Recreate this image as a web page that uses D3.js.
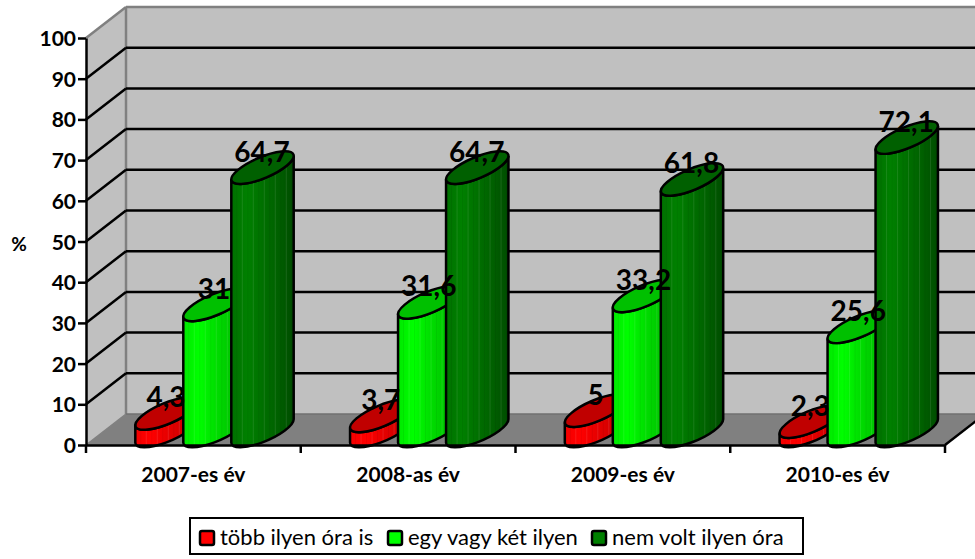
<!DOCTYPE html>
<html>
<head>
<meta charset="utf-8">
<script src="https://cdnjs.cloudflare.com/ajax/libs/d3/7.8.5/d3.min.js"></script>
<style>
html,body{margin:0;padding:0;background:#fff}
svg{display:block}
text{font-family:Lato,"Open Sans",sans-serif;fill:#000}
</style>
</head>
<body>
<svg id="c" width="975" height="559"></svg>
<script>
const categories = ["2007-es év","2008-as év","2009-es év","2010-es év"];
const seriesNames = ["több ilyen óra is","egy vagy két ilyen","nem volt ilyen óra"];
const tobbIlyen = [4.3,3.7,5,2.3];
const egyVagyKet = [31,31.6,33.2,25.6];
const nemVolt = [64.7,64.7,61.8,72.1];
const yTicks = [0,10,20,30,40,50,60,70,80,90,100];
const bodyColors = [
  ["#f40000","#ff0000","#e80000","#d40000","#b80000"],
  ["#00e800","#00ff00","#00e000","#00c800","#00ac00"],
  ["#007000","#008000","#007000","#006000","#004c00"]
];
const topColors = ["#c00000","#00c000","#006000"];
const swatchColors = ["#ff0000","#00ff00","#008000"];

const W=975,H=559;
const svg=d3.select("#c");
const x0=86,x1=945,yB=445,yT=38,dx=40,dy=-31;
const x=d3.scaleBand().domain(categories).range([x0,x1]);
const y=d3.scaleLinear().domain([0,100]).range([yB,yT]);
const series=[tobbIlyen,egyVagyKet,nemVolt];
const barOffset=d3.scaleLinear().domain([0,2]).range([79.5,175.5]);

// walls and floor
const g=svg.append("g");
g.append("polygon").attr("points",[[x0,y(100)],[x0+dx,y(100)+dy],[x0+dx,y(0)+dy],[x0,y(0)]].join(" ")).attr("fill","#c0c0c0");
g.append("rect").attr("x",x0+dx).attr("y",y(100)+dy).attr("width",W-x0-dx).attr("height",y(0)-y(100)).attr("fill","#c0c0c0");
g.append("polygon").attr("points",[[x0,y(0)],[x0+dx,y(0)+dy],[x1+dx,y(0)+dy],[x1,y(0)]].join(" ")).attr("fill","#808080");
const edge=(a,b,c,d,col,w)=>g.append("line").attr("x1",a).attr("y1",b).attr("x2",c).attr("y2",d).attr("stroke",col).attr("stroke-width",w);
edge(x0+dx,y(100)+dy,x0+dx,y(0)+dy,"#808080",2.5);
edge(x0+dx,y(100)+dy,W,y(100)+dy,"#808080",2.5);
edge(x0,y(100),x0+dx,y(100)+dy,"#808080",2.5);
edge(x0,y(0),x0+dx,y(0)+dy,"#808080",1.5);
edge(x0+dx,y(0)+dy,W,y(0)+dy,"#707070",1.5);
yTicks.filter(t=>t>0&&t<100).forEach(t=>{
  edge(x0,y(t),x0+dx,y(t)+dy,"#000",2.5);
  edge(x0+dx,y(t)+dy,W,y(t)+dy,"#000",2.5);
});
edge(x1,y(0),x1+dx,y(0)+dy,"#000",2.5);

const defs=svg.append("defs");
bodyColors.forEach((cols,i)=>{
  const lg=defs.append("linearGradient").attr("id","b"+i);
  cols.forEach((c,j)=>lg.append("stop").attr("offset",j/(cols.length-1)).attr("stop-color",c));
});

// cylinders
const rx=33.6,ry=10.5,theta=-23*Math.PI/180;
const t0=Math.atan2(-ry*Math.sin(theta),rx*Math.cos(theta));
const px=rx*Math.cos(t0)*Math.cos(theta)-ry*Math.sin(t0)*Math.sin(theta);
const py=rx*Math.cos(t0)*Math.sin(theta)+ry*Math.sin(t0)*Math.cos(theta);
const rot=theta*180/Math.PI;
const baseY=y(0)-14;
const valueH=v=>y(0)-y(v);
const stripes=d3.range(0,63,5.5);
categories.forEach((cat,ci)=>{
  series.forEach((vals,si)=>{
    const v=vals[ci];
    const cx=x(cat)+barOffset(si)+1;
    const cyTop=baseY-valueH(v), cyBot=baseY;
    const grp=svg.append("g");
    const d=`M${cx-px},${cyTop-py} L${cx-px},${cyBot-py} A${rx},${ry} ${rot} 0 0 ${cx+px},${cyBot+py} L${cx+px},${cyTop+py} A${rx},${ry} ${rot} 0 1 ${cx-px},${cyTop-py} Z`;
    const id=`clip${ci}_${si}`;
    defs.append("clipPath").attr("id",id).append("path").attr("d",d);
    grp.append("path").attr("d",d).attr("fill",`url(#b${si})`);
    const st=grp.append("g").attr("clip-path",`url(#${id})`);
    stripes.forEach((s,k)=>{
      st.append("line").attr("x1",cx-px+s).attr("x2",cx-px+s)
        .attr("y1",cyTop-30).attr("y2",cyBot+30)
        .attr("stroke",k%2?"#000":"#fff").attr("stroke-opacity",k%2?0.06:0.1).attr("stroke-width",1);
    });
    grp.append("path").attr("d",d).attr("fill","none").attr("stroke","#000").attr("stroke-width",2.5);
    grp.append("ellipse").attr("rx",rx).attr("ry",ry)
      .attr("transform",`translate(${cx},${cyTop}) rotate(${rot})`)
      .attr("fill",topColors[si]).attr("stroke","#000").attr("stroke-width",2.5);
  });
});

// axes
const yAxis=d3.axisLeft(y).tickValues(yTicks).tickSize(8).tickPadding(2).tickSizeOuter(0);
const ya=svg.append("g").attr("transform",`translate(${x0},0)`).call(yAxis);
ya.selectAll("path").attr("stroke","#000").attr("stroke-width",2.5);
ya.selectAll("line").attr("stroke","#000").attr("stroke-width",2.5);
ya.selectAll("text").attr("font-size",21).attr("font-weight",700).attr("dy","0.36em").style("font-family","Lato");
const xAxis=d3.axisBottom(x).tickSize(0).tickPadding(22);
const xa=svg.append("g").attr("transform",`translate(0,${y(0)})`).call(xAxis);
xa.select("path").attr("stroke","#000").attr("stroke-width",2.5);
xa.selectAll("line").remove();
xa.selectAll("text").attr("font-size",21).attr("font-weight",700).style("font-family","Lato");
[...categories.map(c=>x(c)),x1].forEach(p=>svg.append("line").attr("x1",p).attr("x2",p).attr("y1",y(0)).attr("y2",y(0)+8).attr("stroke","#000").attr("stroke-width",2.5));

svg.append("text").attr("x",19).attr("y",251).attr("text-anchor","middle").attr("font-size",19).attr("font-weight",700).text("%");

// value labels
categories.forEach((cat,ci)=>{
  series.forEach((vals,si)=>{
    const v=vals[ci];
    const cx=x(cat)+barOffset(si)+0.5;
    svg.append("text").attr("x",cx).attr("y",baseY-valueH(v)-6)
      .attr("text-anchor","middle").attr("font-size",28).attr("font-weight",700)
      .text(String(v).replace(".",","));
  });
});

// legend
const leg=svg.append("g");
leg.append("rect").attr("x",190).attr("y",518).attr("width",613).attr("height",36).attr("fill","#fff").attr("stroke","#000").attr("stroke-width",2);
const legX=[200,388,592];
seriesNames.forEach((n,i)=>{
  leg.append("rect").attr("x",legX[i]).attr("y",531).attr("width",14).attr("height",14).attr("rx",2).attr("fill",swatchColors[i]).attr("stroke","#000").attr("stroke-width",2.5);
  leg.append("text").attr("x",legX[i]+20).attr("y",545).attr("font-size",22).text(n);
});
</script>
</body>
</html>
